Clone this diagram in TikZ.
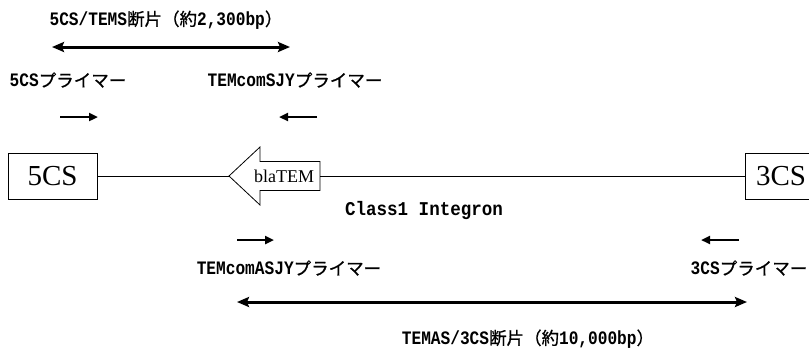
\documentclass[tikz,border=0pt]{standalone}
\usepackage{fontspec}
\setmainfont{Liberation Serif}
\newfontfamily\cjkf[FakeBold=0.8]{Noto Sans CJK JP}
\newfontfamily\monof[FakeStretch=0.85]{Liberation Mono}
\newfontfamily\integf[FakeStretch=0.9]{Liberation Mono}
\usetikzlibrary{arrows.meta}
\newcommand\jpn[1]{{\cjkf\fontsize{17.5}{20}\selectfont #1}}
\newcommand\latn[1]{{\monof\bfseries\fontsize{19}{20}\selectfont #1}}
\tikzset{
  lbl/.style={inner sep=0pt, anchor=center},
  csbox/.style={draw, line width=0.8pt, minimum height=46pt, inner sep=0pt, font=\fontsize{29}{30}\selectfont},
  primer/.style={line width=2.4pt, -{Triangle[length=9pt,width=8pt]}},
  span/.style={line width=3pt, {Stealth[length=12pt,width=10pt,inset=2pt]}-{Stealth[length=12pt,width=10pt,inset=2pt]}},
  mainline/.style={line width=0.8pt},
}
\begin{document}
\begin{tikzpicture}[x=1pt,y=-1pt]
\useasboundingbox (0,0) rectangle (809,349);
% top span
\node[lbl] (toplbl) at (166,20) {\latn{5CS/TEMS}\jpn{断片（約}\latn{2,300bp}\jpn{）}};
\coordinate (ts1) at (52,47);
\coordinate (ts2) at (290,47);
\draw[span] (ts1) -- (ts2);
% primer labels top
\node[lbl] (p5lbl) at (68,80) {\latn{5CS}\jpn{プライマー}};
\node[lbl] (ptemslbl) at (295,80) {\latn{TEMcomSJY}\jpn{プライマー}};
\coordinate (a1s) at (60,117); \coordinate (a1e) at (98,117);
\coordinate (a2s) at (317,117); \coordinate (a2e) at (279,117);
\draw[primer] (a1s) -- (a1e);
\draw[primer] (a2s) -- (a2e);
% boxes
\node[csbox, minimum width=89pt] (b5) at (52.5,176) {5CS};
\node[csbox, minimum width=72pt] (b3) at (781,176) {3CS};
% blaTEM arrow
\coordinate (tip) at (229,176);
\coordinate (tail) at (320,176);
\draw[line width=0.8pt, fill=white] (tip) -- (260,147) -- (260,161.5) -- (320,161.5) -- (320,190.5) -- (260,190.5) -- (260,205) -- cycle;
\node[lbl, font=\fontsize{18}{20}\selectfont] (bla) at (284,176) {blaTEM};
\draw[mainline] (b5.east) -- (tip);
\draw[mainline] (tail) -- (b3.west);
\node[lbl] (integ) at (424,210) {\integf\bfseries\fontsize{19.5}{20}\selectfont Class1 Integron};
% bottom primers
\coordinate (a3s) at (237,240); \coordinate (a3e) at (274,240);
\coordinate (a4s) at (739,240); \coordinate (a4e) at (701,240);
\draw[primer] (a3s) -- (a3e);
\draw[primer] (a4s) -- (a4e);
\node[lbl] (ptemaslbl) at (289,268) {\latn{TEMcomASJY}\jpn{プライマー}};
\node[lbl] (p3lbl) at (749,268) {\latn{3CS}\jpn{プライマー}};
% bottom span
\coordinate (bs1) at (237,302);
\coordinate (bs2) at (747,302);
\draw[span] (bs1) -- (bs2);
\node[lbl] (botlbl) at (528,339) {\latn{TEMAS/3CS}\jpn{断片（約}\latn{10,000bp}\jpn{）}};
\end{tikzpicture}
\end{document}
